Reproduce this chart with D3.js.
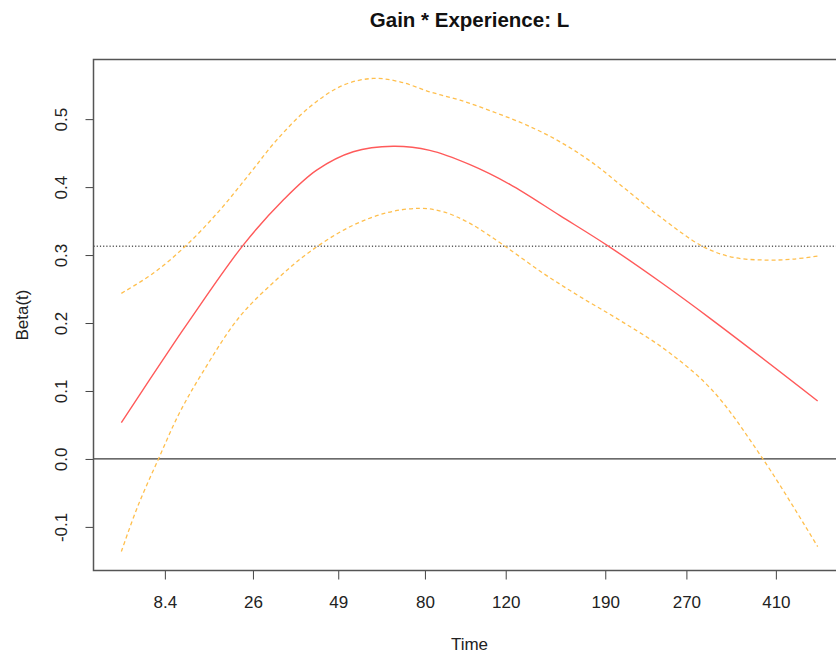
<!DOCTYPE html>
<html>
<head>
<meta charset="utf-8">
<script src="https://cdn.jsdelivr.net/npm/d3@7"></script>
<style>
  html, body { margin: 0; padding: 0; background: #fff; }
  svg { display: block; font-family: "Liberation Sans", Arial, Helvetica, sans-serif; }
</style>
</head>
<body>
<svg id="chart" width="836" height="655"></svg>
<script>
// Time axis is on the Kaplan-Meier transformed scale (0..1); labels show raw times.
const timeTickPos = [0.0625, 0.189, 0.3115, 0.436, 0.552, 0.695, 0.8115, 0.940];
const timeTickLabels = ["8.4", "26", "49", "80", "120", "190", "270", "410"];
const betaTicks = [-0.1, 0.0, 0.1, 0.2, 0.3, 0.4, 0.5];

// Smoothed time-varying coefficient beta(t)
const fitT    = [0, 0.0766, 0.096, 0.175, 0.2325, 0.2805, 0.333, 0.3905, 0.443, 0.5007, 0.558, 0.630, 0.6994, 0.7737, 0.8455, 1.0];
const fitBeta = [0.0534, 0.172, 0.201, 0.3147, 0.381, 0.425, 0.452, 0.460, 0.454, 0.433, 0.404, 0.358, 0.3132, 0.2607, 0.2069, 0.0853];

// Upper confidence band
const upperT    = [0, 0.0457, 0.0937, 0.1415, 0.1846, 0.223, 0.2708, 0.3187, 0.3618, 0.4001, 0.4432, 0.4864, 0.5342, 0.5822, 0.6301, 0.6779, 0.7259, 0.7737, 0.8359, 0.879, 0.927, 0.9652, 1.0];
const upperBeta = [0.2437, 0.2731, 0.3147, 0.3662, 0.4201, 0.4691, 0.5181, 0.550, 0.5599, 0.5549, 0.5401, 0.5279, 0.5107, 0.4912, 0.4666, 0.4349, 0.3956, 0.3563, 0.3122, 0.2966, 0.2926, 0.2941, 0.2985];

// Lower confidence band
const lowerT    = [0, 0.0234, 0.0533, 0.0832, 0.1165, 0.1697, 0.223, 0.2708, 0.3283, 0.381, 0.4289, 0.4624, 0.5007, 0.5486, 0.606, 0.6588, 0.7152, 0.7818, 0.8483, 0.9214, 1.0];
const lowerBeta = [-0.1363, -0.0701, 0.0, 0.0672, 0.127, 0.209, 0.2640, 0.305, 0.3416, 0.3622, 0.3687, 0.3637, 0.3466, 0.3147, 0.2731, 0.2387, 0.2044, 0.1603, 0.1015, 0.0, -0.129];

// Overall (time-constant) Cox coefficient
const coefBeta = 0.313;

const svg = d3.select("#chart");
const plotL = 93.5, plotR = 845.5, plotT = 59.5, plotB = 570.5;

// R-style 4% padding around the data range
function padded(ext) { const r = ext[1] - ext[0]; return [ext[0] - 0.04 * r, ext[1] + 0.04 * r]; }
const allT = fitT.concat(upperT, lowerT);
const allB = fitBeta.concat(upperBeta, lowerBeta);
const x = d3.scaleLinear().domain(padded(d3.extent(allT))).range([plotL, plotR]);
const y = d3.scaleLinear().domain(padded(d3.extent(allB))).range([plotB, plotT]);

svg.append("rect").attr("width", 836).attr("height", 655).attr("fill", "#fff");

svg.append("defs").append("clipPath").attr("id", "plotclip")
  .append("rect").attr("x", plotL).attr("y", plotT).attr("width", plotR - plotL).attr("height", plotB - plotT);
const plot = svg.append("g").attr("clip-path", "url(#plotclip)");

const line = d3.line().x(d => x(d[0])).y(d => y(d[1])).curve(d3.curveCatmullRom.alpha(0.5));
const pairs = (a, b) => a.map((v, i) => [v, b[i]]);

// zero reference
plot.append("line").attr("x1", plotL).attr("x2", plotR).attr("y1", y(0)).attr("y2", y(0))
  .attr("stroke", "#3a3a3a").attr("stroke-width", 1.2);
// overall coefficient
plot.append("line").attr("x1", plotL).attr("x2", plotR).attr("y1", y(coefBeta)).attr("y2", y(coefBeta))
  .attr("stroke", "#5e5e5e").attr("stroke-width", 1.4).attr("stroke-dasharray", "1.2,2");

plot.append("path").datum(pairs(upperT, upperBeta)).attr("d", line)
  .attr("fill", "none").attr("stroke", "#ffbf4d").attr("stroke-width", 1.3).attr("stroke-dasharray", "4,3");
plot.append("path").datum(pairs(lowerT, lowerBeta)).attr("d", line)
  .attr("fill", "none").attr("stroke", "#ffbf4d").attr("stroke-width", 1.3).attr("stroke-dasharray", "4,3");
plot.append("path").datum(pairs(fitT, fitBeta)).attr("d", line)
  .attr("fill", "none").attr("stroke", "#ff5a5a").attr("stroke-width", 1.4);

// axes
const xAxis = svg.append("g").attr("transform", `translate(0,${plotB})`)
  .call(d3.axisBottom(x).tickValues(timeTickPos).tickFormat((d, i) => timeTickLabels[i]).tickSize(9));
xAxis.select(".domain").remove();
xAxis.selectAll(".tick line").attr("stroke", "#444");
xAxis.selectAll(".tick text").attr("font-size", 17).attr("fill", "#222")
  .attr("y", 37.5).attr("dy", "0");

const yAxis = svg.append("g").attr("transform", `translate(${plotL},0)`)
  .call(d3.axisLeft(y).tickValues(betaTicks).tickFormat(d => d.toFixed(1)).tickSize(8));
yAxis.select(".domain").remove();
yAxis.selectAll(".tick line").attr("stroke", "#444");
yAxis.selectAll(".tick text")
  .attr("font-size", 17).attr("fill", "#222")
  .attr("text-anchor", "middle").attr("dy", null).attr("x", null)
  .attr("transform", "translate(-30.5,0) rotate(-90)").attr("dominant-baseline", "middle");

// frame
svg.append("rect").attr("x", plotL).attr("y", plotT).attr("width", plotR - plotL).attr("height", plotB - plotT)
  .attr("fill", "none").attr("stroke", "#555").attr("stroke-width", 1.5);

// labels
svg.append("text").attr("x", (plotL + plotR) / 2).attr("y", 26.5).attr("text-anchor", "middle")
  .attr("font-size", 20.5).attr("font-weight", "bold").attr("fill", "#111").text("Gain * Experience: L");
svg.append("text").attr("x", (plotL + plotR) / 2).attr("y", 650).attr("text-anchor", "middle")
  .attr("font-size", 17).attr("fill", "#222").text("Time");
svg.append("text").attr("transform", `translate(27.5,${(plotT + plotB) / 2}) rotate(-90)`).attr("text-anchor", "middle")
  .attr("font-size", 17).attr("fill", "#222").text("Beta(t)");
</script>
</body>
</html>
